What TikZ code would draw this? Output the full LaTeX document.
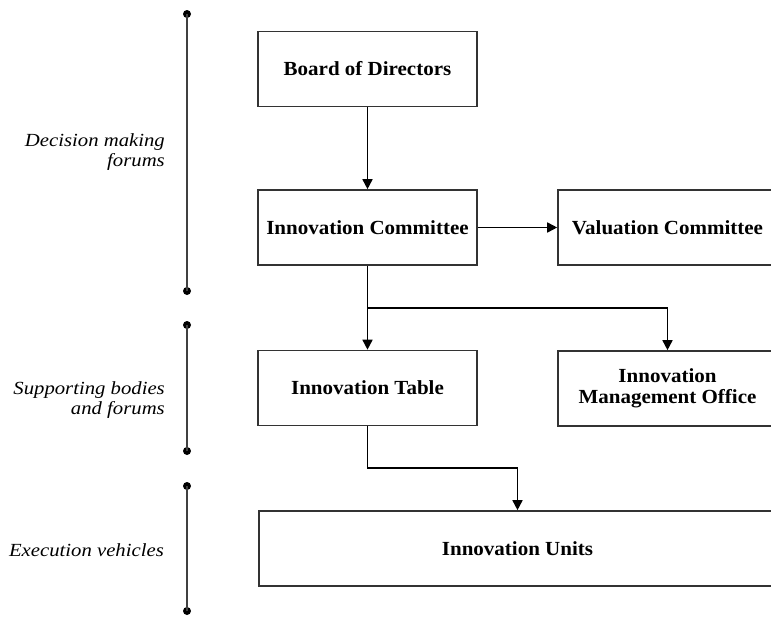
\documentclass[tikz,border=0pt]{standalone}
\usepackage{fontspec}
\usepackage{graphicx}
\setmainfont{Liberation Serif}
\newcommand{\bx}[1]{\scalebox{1.05}[1]{#1}}
\newcommand{\lx}[1]{\scalebox{1.12}[1]{#1}}
\usetikzlibrary{arrows.meta}
\begin{document}
\begin{tikzpicture}[x=1pt,y=-1pt,
  orgbox/.style={draw=black!80, line width=1.6pt, fill=white, minimum height=75pt,
    inner sep=0pt, align=center, font=\bfseries\fontsize{20}{21}\selectfont},
  conn/.style={draw=black, line width=1.6pt},
  arr/.style={conn, -{Triangle[length=10pt,width=10pt]}},
  bar/.style={draw=black!75, line width=2.2pt},
  dotend/.style={circle, fill=black, inner sep=0pt, minimum size=8pt},
  lab/.style={anchor=east, align=right, inner sep=0pt,
    font=\itshape\fontsize{18.5}{20.5}\selectfont}]
\useasboundingbox (0,0) rectangle (771,616);
\clip (0,0) rectangle (771,616);
\fill[white] (0,0) rectangle (771,616);

% boxes
\node[orgbox, minimum width=219pt] (bod) at (367.5,69) {\bx{Board of Directors}};
\node[orgbox, minimum width=219pt] (ic) at (367.5,227.5) {\bx{Innovation Committee}};
\node[orgbox, minimum width=219pt] (vc) at (667.5,227.5) {\bx{Valuation Committee}};
\node[orgbox, minimum width=219pt] (it) at (367.5,388) {\bx{Innovation Table}};
\node[orgbox, minimum width=219pt] (imo) at (667.5,388.5) {\bx{Innovation}\\\bx{Management Office}};
\node[orgbox, minimum width=517pt] (iu) at (517.5,548.5) {\bx{Innovation Units}};

% connectors
\coordinate (j1) at (367.5,308);
\coordinate (j2) at (367.5,468);
\draw[arr] (bod.south) -- (ic.north);
\draw[arr] (ic.east) -- (vc.west);
\draw[arr] (ic.south) -- (it.north);
\draw[arr] (j1) -| (imo.north);
\draw[arr] (it.south) -- (j2) -| (iu.north);

% side bars
\node[dotend] (b1t) at (187,14) {};
\node[dotend] (b1b) at (187,291) {};
\node[dotend] (b2t) at (187,325) {};
\node[dotend] (b2b) at (187,451) {};
\node[dotend] (b3t) at (187,486) {};
\node[dotend] (b3b) at (187,611) {};
\draw[bar] (b1t.center) -- (b1b.center);
\draw[bar] (b2t.center) -- (b2b.center);
\draw[bar] (b3t.center) -- (b3b.center);

% labels
\node[lab] (l1) at (165,152) {\lx{Decision making}\\\lx{forums}};
\node[lab] (l2) at (165,400) {\lx{Supporting bodies}\\\lx{and forums}};
\node[lab] (l3) at (164,550) {\lx{Execution vehicles}};
\end{tikzpicture}
\end{document}
